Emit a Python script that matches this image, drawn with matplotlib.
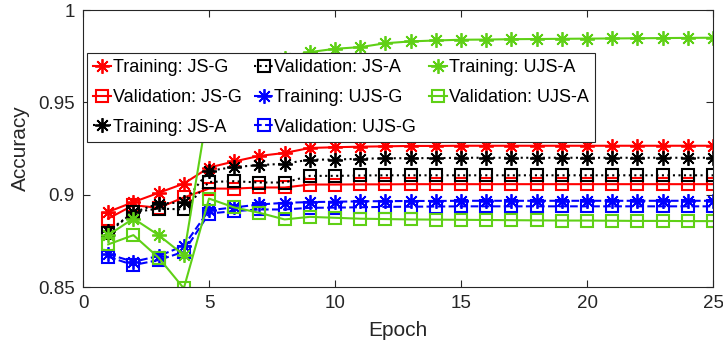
import numpy as np
import matplotlib
matplotlib.use('Agg')
from matplotlib import pyplot as plt

plt.rcParams['font.family'] = ['Liberation Sans', 'DejaVu Sans']

epochs = np.arange(1, 26)

# accuracy per epoch
train_jsg = [0.8907, 0.896, 0.901, 0.906, 0.9147, 0.918, 0.921, 0.9226, 0.9253, 0.9257,
             0.926, 0.9262, 0.9264, 0.9264, 0.9265, 0.9265, 0.9265, 0.9265, 0.9265, 0.9265,
             0.9265, 0.9265, 0.9265, 0.9265, 0.9265]
val_jsg = [0.8871, 0.8943, 0.8929, 0.8985, 0.9033, 0.9033, 0.9039, 0.9039, 0.9055, 0.9055,
           0.9056, 0.9056, 0.9057, 0.9057, 0.9057, 0.9057, 0.9057, 0.9057, 0.9057, 0.9057,
           0.9057, 0.9057, 0.9057, 0.9057, 0.9057]
train_jsa = [0.8803, 0.8904, 0.8952, 0.8958, 0.9129, 0.915, 0.916, 0.9168, 0.919, 0.919,
             0.9195, 0.9197, 0.9198, 0.9198, 0.92, 0.92, 0.92, 0.92, 0.92, 0.92,
             0.92, 0.92, 0.92, 0.92, 0.92]
val_jsa = [0.8795, 0.8905, 0.8925, 0.892, 0.9069, 0.9073, 0.9066, 0.9066, 0.9102, 0.9102,
           0.9104, 0.9105, 0.9105, 0.9105, 0.9105, 0.9105, 0.9105, 0.9105, 0.9105, 0.9105,
           0.9105, 0.9105, 0.9105, 0.9105, 0.9105]
train_ujsg = [0.8678, 0.8637, 0.8668, 0.8723, 0.8916, 0.8931, 0.8947, 0.8956, 0.896, 0.8962,
              0.8964, 0.8965, 0.8966, 0.8966, 0.8967, 0.8967, 0.8967, 0.8967, 0.8967, 0.8967,
              0.8967, 0.8967, 0.8967, 0.8967, 0.8967]
val_ujsg = [0.8664, 0.8619, 0.8646, 0.8691, 0.8898, 0.8911, 0.892, 0.892, 0.8929, 0.893,
            0.8932, 0.8934, 0.8935, 0.8936, 0.8937, 0.8937, 0.8937, 0.8937, 0.8937, 0.8937,
            0.8937, 0.8937, 0.8937, 0.8937, 0.8937]
train_ujsa = [0.8781, 0.8871, 0.8781, 0.8673, 0.95, 0.964, 0.970, 0.974, 0.9772, 0.979,
              0.9799, 0.982, 0.983, 0.9835, 0.9839, 0.984, 0.9842, 0.9843, 0.9844, 0.9845,
              0.9846, 0.9847, 0.9848, 0.9849, 0.985]
val_ujsa = [0.8731, 0.8781, 0.8659, 0.8493, 0.8979, 0.8931, 0.8902, 0.8866, 0.888, 0.8875,
            0.887, 0.8868, 0.8866, 0.8865, 0.8864, 0.8863, 0.8862, 0.8861, 0.886, 0.886,
            0.8859, 0.8858, 0.8858, 0.8857, 0.8857]

green = '#5fd016'
star = (8, 2, 0)

fig = plt.figure(figsize=(7.23, 3.45), dpi=100)
ax = fig.add_axes([0.1148, 0.168, 0.8714, 0.803])

kw_star = dict(marker=star, markersize=10.5, markeredgewidth=1.3, linewidth=1.5)
kw_sq = dict(marker='s', markersize=8.5, markerfacecolor='none', markeredgewidth=1.5, linewidth=1.5)

ax.plot(epochs, train_jsg, color='red', linestyle='-', label='Training: JS-G', **kw_star)
ax.plot(epochs, val_jsg, color='red', linestyle='-', label='Validation: JS-G', **kw_sq)
ax.plot(epochs, train_jsa, color='black', linestyle=':', label='Training: JS-A', **kw_star)
ax.plot(epochs, val_jsa, color='black', linestyle=':', label='Validation: JS-A', **kw_sq)
ax.plot(epochs, train_ujsg, color='blue', linestyle='--', label='Training: UJS-G', **kw_star)
ax.plot(epochs, val_ujsg, color='blue', linestyle='--', label='Validation: UJS-G', **kw_sq)
ax.plot(epochs, train_ujsa, color=green, linestyle='-', label='Training: UJS-A', **kw_star)
ax.plot(epochs, val_ujsa, color=green, linestyle='-', label='Validation: UJS-A', **kw_sq)

ax.set_xlim(0, 25)
ax.set_ylim(0.85, 1)
ax.set_xticks([0, 5, 10, 15, 20, 25])
ax.set_yticks([0.85, 0.9, 0.95, 1])
ax.set_yticklabels(['0.85', '0.9', '0.95', '1'])
ax.tick_params(direction='in', labelsize=13.5, colors='#262626', top=True, right=True,
               length=5, pad=6)
for s in ax.spines.values():
    s.set_color('#262626')
    s.set_linewidth(0.8)
ax.set_xlabel('Epoch', fontsize=15, color='#262626', labelpad=6)
ax.set_ylabel('Accuracy', fontsize=15, color='#262626', labelpad=6)

leg = ax.legend(ncol=3, loc='upper left', bbox_to_anchor=(0.006, 0.845), fontsize=13,
                frameon=True, fancybox=False, edgecolor='#262626', framealpha=1,
                handlelength=1.0, handletextpad=0.1, columnspacing=0.7, labelspacing=0.7,
                borderpad=0.35, borderaxespad=0)
leg.get_frame().set_linewidth(0.8)

fig.savefig('out.png', dpi=100)
